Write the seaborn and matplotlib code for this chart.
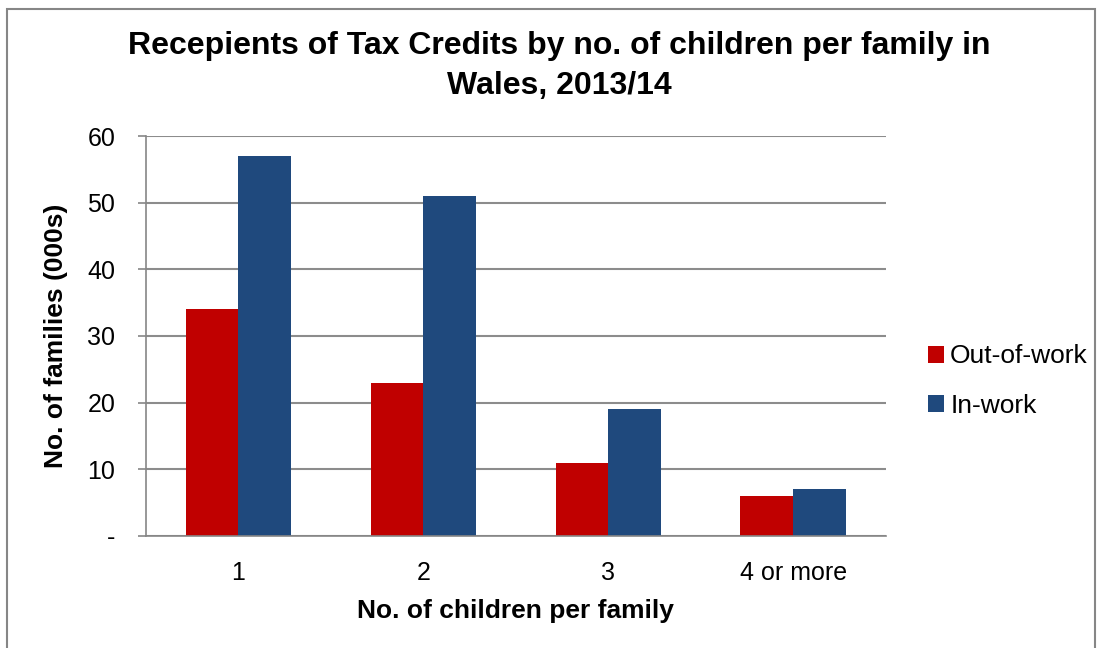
import matplotlib
matplotlib.use("Agg")
import matplotlib.pyplot as plt
import seaborn as sns
import pandas as pd
from matplotlib.patches import Rectangle
from matplotlib.ticker import FixedLocator

categories = ["1", "2", "3", "4 or more"]
out_of_work = [34, 23, 11, 6]
in_work = [57, 51, 19, 7]
series_names = ["Out-of-work", "In-work"]
colors = ["#C00000", "#1F497D"]

df = pd.DataFrame({
    "children": categories * 2,
    "families": out_of_work + in_work,
    "type": [series_names[0]] * 4 + [series_names[1]] * 4,
})

sns.set_style("white")
plt.rcParams["font.family"] = ["Liberation Sans", "DejaVu Sans"]
plt.rcParams["text.color"] = "black"
plt.rcParams["xtick.color"] = "#868686"
plt.rcParams["ytick.color"] = "#868686"
plt.rcParams["xtick.labelcolor"] = "black"
plt.rcParams["ytick.labelcolor"] = "black"
plt.rcParams["axes.labelcolor"] = "black"

fig = plt.figure(figsize=(10.99, 6.48), dpi=100)
ax = fig.add_axes([0.1328, 0.173, 0.673, 0.617])

sns.barplot(data=df, x="children", y="families", hue="type", palette=colors,
            width=0.57, gap=0, ax=ax, edgecolor="none", saturation=1)

ax.set_ylim(0, 60)
ax.set_xlim(-0.5, 3.5)
ax.set_yticks(range(0, 61, 10))
ax.set_yticklabels(["-"] + [str(v) for v in range(10, 61, 10)], fontsize=18)
ax.yaxis.grid(True, color="#8C8C8C", linewidth=1.5)
ax.set_axisbelow(True)
ax.set_xticks(range(4))
ax.set_xticklabels(categories, fontsize=18)
ax.xaxis.set_minor_locator(FixedLocator([-0.5, 0.5, 1.5, 2.5, 3.5]))
ax.tick_params(axis="x", which="major", length=0, pad=18)
ax.tick_params(axis="x", which="minor", length=6, color="#868686", width=1.2, direction="out")
ax.tick_params(axis="y", length=6, color="#868686", width=1.2, direction="out", left=True, pad=16)

for side in ["top", "right"]:
    ax.spines[side].set_visible(False)
for side in ["left", "bottom"]:
    ax.spines[side].set_color("#868686")
    ax.spines[side].set_linewidth(1.2)

ax.set_xlabel("No. of children per family", fontsize=19, fontweight="bold", labelpad=10)
ax.set_ylabel("No. of families (000s)", fontsize=19, fontweight="bold", labelpad=14)

fig.text(0.509, 0.898, "Recepients of Tax Credits by no. of children per family in\nWales, 2013/14",
         ha="center", va="center", fontsize=23, fontweight="bold", linespacing=1.4)

leg = ax.legend(loc="center left", bbox_to_anchor=(1.025, 0.3875), frameon=False,
                fontsize=19, handlelength=0.6, handleheight=0.6, handletextpad=0.25,
                labelspacing=0.95)

fig.patches.append(Rectangle((7 / 1099, -0.01), 1088 / 1099, 1 - 9 / 648 + 0.01,
                             transform=fig.transFigure, fill=False,
                             edgecolor="#868686", linewidth=1.5))

fig.savefig("out.png", dpi=100)
